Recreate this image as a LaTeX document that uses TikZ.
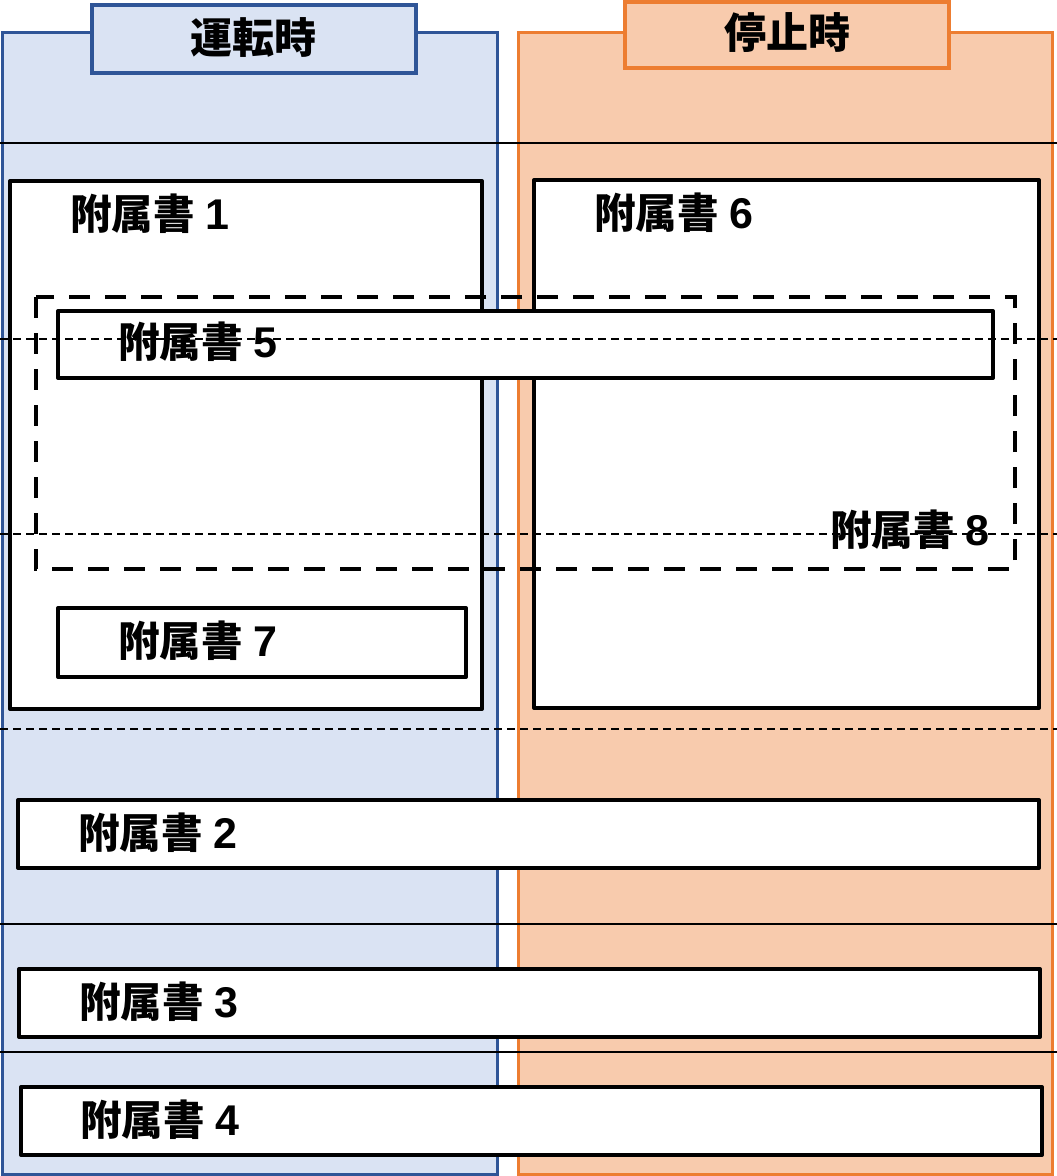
\documentclass[tikz,border=0pt]{standalone}
\usepackage{fontspec}
\setmainfont{Liberation Sans}
\newfontfamily\jp{Noto Sans CJK JP}
\definecolor{bfill}{HTML}{DAE3F3}
\definecolor{bline}{HTML}{2F5597}
\definecolor{ofill}{HTML}{F8CBAD}
\definecolor{oline}{HTML}{ED7D31}
\newcommand\annexlabel[1]{{\jp 附属書}\hspace{11pt}{\fontsize{43}{48}\selectfont #1}}
\tikzset{
  colbox/.style={draw, line width=3pt},
  headbox/.style={draw, line width=4pt},
  annexbox/.style={draw=black, fill=white, line width=4pt, line join=round},
  groupbox/.style={draw=black, line width=4pt, dash pattern=on 21pt off 15pt},
  lbl/.style={anchor=west, inner sep=0pt, font=\bfseries\fontsize{41.5}{48}\selectfont},
  headlbl/.style={anchor=center, inner sep=0pt, font=\bfseries\fontsize{42}{48}\selectfont},
  rowline/.style={draw=black, line width=1.5pt},
  rowdash/.style={draw=black, line width=1.5pt, dash pattern=on 8pt off 5pt},
}
\begin{document}
\begin{tikzpicture}[x=1pt,y=-1pt]
\useasboundingbox (0,0) rectangle (1057,1176);
% columns
\draw[colbox, draw=bline, fill=bfill] (2,32) rectangle (497,1174);
\draw[colbox, draw=oline, fill=ofill] (518,32) rectangle (1052,1174);
% headers
\draw[headbox, draw=bline, fill=bfill] (92,5) rectangle (416,73);
\draw[headbox, draw=oline, fill=ofill] (625,2) rectangle (949,68);
\node[headlbl] (hrun) at (253,37) {\jp 運転時};
\node[headlbl] (hstop) at (787,33) {\jp 停止時};
% annex boxes
\draw[annexbox] (10,181) rectangle (482,709);
\draw[annexbox] (534,180) rectangle (1039,708);
\draw[annexbox] (58,311) rectangle (993,378);
\draw[annexbox] (58,608) rectangle (466,677);
\draw[groupbox] (36,297) rectangle (1015,569);
\draw[annexbox] (18,800) rectangle (1039,868);
\draw[annexbox] (19,969) rectangle (1040,1037);
\draw[annexbox] (21,1087) rectangle (1042,1155);
% labels
\node[lbl] (a1) at (70,214) {\annexlabel{1}};
\node[lbl] (a6) at (594,213) {\annexlabel{6}};
\node[lbl] (a5) at (118,342) {\annexlabel{5}};
\node[lbl] (a7) at (118,641) {\annexlabel{7}};
\node[lbl] (a8) at (830,530) {\annexlabel{8}};
\node[lbl] (a2) at (78,833) {\annexlabel{2}};
\node[lbl] (a3) at (79,1002) {\annexlabel{3}};
\node[lbl] (a4) at (80,1120) {\annexlabel{4}};
% row separators
\coordinate (s1l) at (0,143); \coordinate (s1r) at (1057,143);
\coordinate (d1l) at (0,339); \coordinate (d1r) at (1057,339);
\coordinate (d2l) at (0,534); \coordinate (d2r) at (1057,534);
\coordinate (d3l) at (0,729); \coordinate (d3r) at (1057,729);
\coordinate (s2l) at (0,924); \coordinate (s2r) at (1057,924);
\coordinate (s3l) at (0,1052); \coordinate (s3r) at (1057,1052);
\draw[rowline] (s1l) -- (s1r);
\draw[rowdash] (d1l) -- (d1r);
\draw[rowdash] (d2l) -- (d2r);
\draw[rowdash] (d3l) -- (d3r);
\draw[rowline] (s2l) -- (s2r);
\draw[rowline] (s3l) -- (s3r);
\end{tikzpicture}
\end{document}
